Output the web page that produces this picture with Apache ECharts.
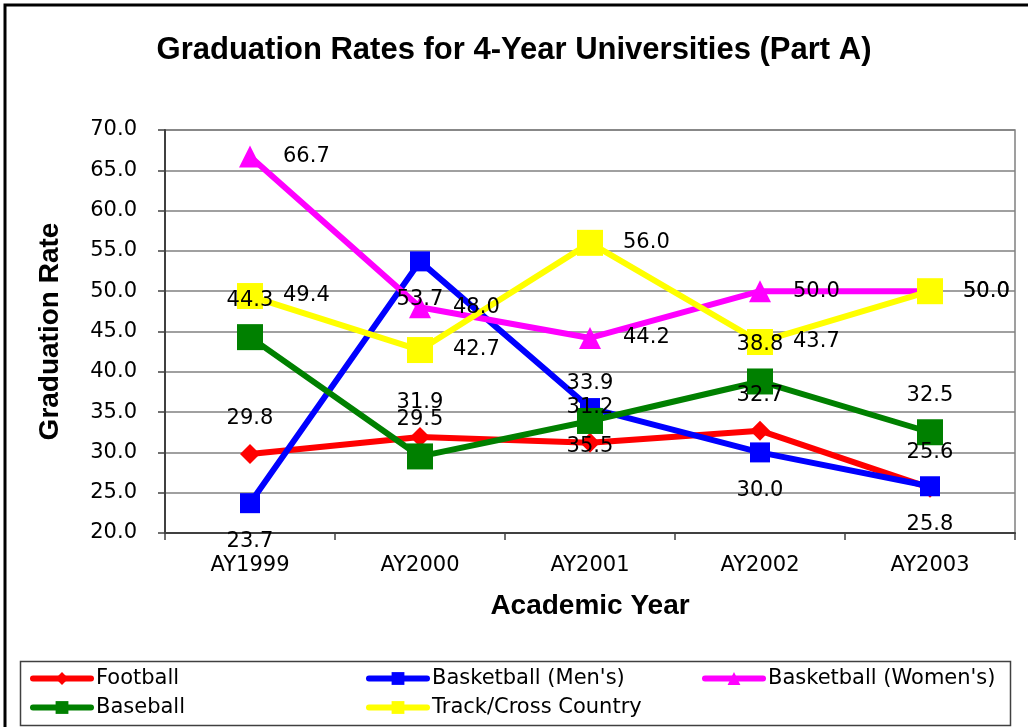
<!DOCTYPE html>
<html>
<head>
<meta charset="utf-8">
<title>Graduation Rates for 4-Year Universities (Part A)</title>
<script src="https://cdn.jsdelivr.net/npm/echarts@6/dist/echarts.min.js"></script>
<style>
  html, body { margin: 0; padding: 0; background: #fff; }
  #chart { width: 1028px; height: 727px; }
</style>
</head>
<body>
<div id="chart"></div>
<script>
// academic years on the x axis
const years = ['AY1999', 'AY2000', 'AY2001', 'AY2002', 'AY2003']

// graduation rates per sport
const football = [29.8, 31.9, 31.2, 32.7, 25.6]
const basketballMen = [23.7, 53.7, 35.5, 30.0, 25.8]
const basketballWomen = [66.7, 48.0, 44.2, 50.0, 50.0]
const baseball = [44.3, 29.5, 33.9, 38.8, 32.5]
const trackCross = [49.4, 42.7, 56.0, 43.7, 50.0]

const FONT = '"DejaVu Sans", Verdana, sans-serif'
const BOLD = '"Liberation Sans", Arial, sans-serif'

const chart = echarts.init(document.getElementById('chart'))

// label placement per series: above, below or to the right of the marker
function labelAt(offset, align) {
  return {
    show: true,
    position: 'inside',
    offset: offset,
    align: align || 'center',
    verticalAlign: 'middle',
    color: '#000',
    fontFamily: FONT,
    fontSize: 21,
    formatter: p => p.value.toFixed(1)
  }
}

function makeSeries(name, data, color, symbol, size, label) {
  return {
    name: name,
    type: 'line',
    data: data,
    symbol: symbol,
    symbolSize: size,
    showAllSymbol: true,
    itemStyle: { color: color },
    lineStyle: { color: color, width: 6 },
    label: label,
    emphasis: { disabled: true },
    z: 2
  }
}

const legendText = { fontFamily: FONT, fontSize: 21, color: '#000', lineHeight: 20 }
function legendCol(left, names) {
  return {
    orient: 'vertical',
    left: left,
    top: 668,
    itemWidth: 58,
    itemHeight: 16,
    itemGap: 8,
    padding: 0,
    textStyle: legendText,
    lineStyle: { width: 6, cap: 'round' },
    data: names
  }
}

chart.setOption({
  animation: false,
  backgroundColor: '#fff',
  title: {
    text: 'Graduation Rates for 4-Year Universities (Part A)',
    left: 'center',
    top: 30,
    textStyle: { fontFamily: BOLD, fontSize: 31, fontWeight: 'bold', color: '#000' }
  },
  graphic: [
    // outer frame
    {
      type: 'rect',
      shape: { x: 5, y: 5, width: 1040, height: 740 },
      style: { fill: null, stroke: '#000', lineWidth: 3 },
      silent: true
    },
    // legend box
    {
      type: 'rect',
      shape: { x: 20.5, y: 661.5, width: 990, height: 64 },
      style: { fill: null, stroke: '#404040', lineWidth: 1.5 },
      silent: true
    }
  ],
  legend: [
    legendCol(30, ['Football', 'Baseball']),
    legendCol(366, ['Basketball (Men\'s)', 'Track/Cross Country']),
    legendCol(702, ['Basketball (Women\'s)'])
  ],
  grid: {
    left: 165,
    right: 13,
    top: 130,
    bottom: 194,
    show: true,
    borderColor: '#808080',
    borderWidth: 1.5
  },
  xAxis: {
    type: 'category',
    data: years,
    boundaryGap: true,
    name: 'Academic Year',
    nameLocation: 'middle',
    nameGap: 59,
    nameTextStyle: { fontFamily: BOLD, fontSize: 28, fontWeight: 'bold', color: '#000' },
    axisLine: { lineStyle: { color: '#404040', width: 2 } },
    axisTick: { show: true, length: 7, lineStyle: { color: '#404040', width: 1.5 } },
    axisLabel: { margin: 22, fontFamily: FONT, fontSize: 21, color: '#000' },
    splitLine: { show: false }
  },
  yAxis: {
    type: 'value',
    min: 20,
    max: 70,
    interval: 5,
    name: 'Graduation Rate',
    nameLocation: 'middle',
    nameGap: 101,
    nameRotate: 90,
    nameTextStyle: { fontFamily: BOLD, fontSize: 28, fontWeight: 'bold', color: '#000' },
    axisLine: { show: true, lineStyle: { color: '#404040', width: 2 } },
    axisTick: { show: true, length: 7, lineStyle: { color: '#404040', width: 1.5 } },
    axisLabel: {
      margin: 28,
      fontFamily: FONT,
      fontSize: 21,
      color: '#000',
      formatter: v => v.toFixed(1)
    },
    splitLine: { lineStyle: { color: '#808080', width: 1.5 } }
  },
  series: [
    makeSeries('Football', football, '#ff0000', 'diamond', [20, 20], labelAt([0, -35])),
    makeSeries('Basketball (Men\'s)', basketballMen, '#0000ff', 'rect', 20, labelAt([0, 38])),
    makeSeries('Basketball (Women\'s)', basketballWomen, '#ff00ff', 'triangle', [22, 22], labelAt([33, 0], 'left')),
    makeSeries('Baseball', baseball, '#008000', 'rect', 26, labelAt([0, -37])),
    makeSeries('Track/Cross Country', trackCross, '#ffff00', 'rect', 26, labelAt([33, 0], 'left'))
  ]
})
</script>
</body>
</html>
